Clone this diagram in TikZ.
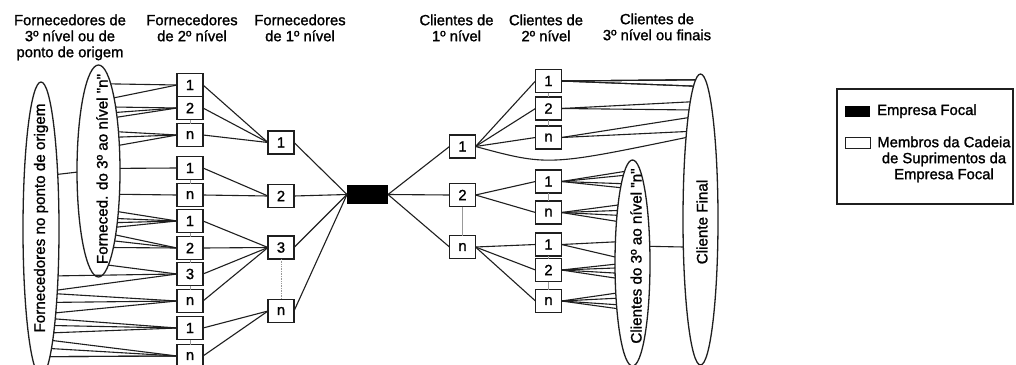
\documentclass[tikz,border=0pt]{standalone}
\usepackage{fontspec}
\setmainfont{Liberation Sans}
\newfontfamily\labelface[FakeBold=1.3]{Liberation Sans}
\usetikzlibrary{shapes.geometric}

\definecolor{ink}{gray}{0.12}
\definecolor{faint}{gray}{0.6}

\newcommand\hfont{\labelface\fontsize{14.8}{16}\selectfont}
\newcommand\efont{\labelface\fontsize{15.2}{17}\selectfont}

% #1: macro receiving the border angle of an ellipse node,
% #2: centre y, #3: half width, #4: half height, #5: y of the point
% (y grows downwards), #6: +1 for the right rim, -1 for the left rim
\newcommand\rimangle[6]{%
  \pgfmathsetmacro#1{atan2((#2)-(#5),(#6)*(#3)*sqrt(1-(((#5)-(#2))/(#4))^2))}}

\begin{document}
\begin{tikzpicture}[x=1pt,y=-1pt,
  member/.style={draw=ink,line width=1.4pt,fill=white,minimum width=26pt,
    minimum height=23pt,inner sep=0pt,outer sep=0pt,font=\hfont},
  focal/.style={fill=black,minimum width=41pt,minimum height=19pt,
    inner sep=0pt,outer sep=0pt},
  conn/.style={draw=ink,line width=1.1pt},
  tie/.style={draw=faint,line width=0.7pt},
  cloud/.style={ellipse,draw=ink,line width=1.3pt,inner sep=0pt,outer sep=0pt},
  cloudtext/.style={rotate=90,font=\efont,inner sep=0pt},
  head/.style={align=center,font=\hfont,inner sep=0pt,anchor=north}]

\useasboundingbox (0,0) rectangle (1016,364);
\fill[white] (0,0) rectangle (1016,364);

% column headings
\node[head] (h1) at (70,13.8)   {\strut Fornecedores de\\3º nível ou de\\ponto de origem};
\node[head] (h2) at (192,13.8)  {\strut Fornecedores\\de 2º nível};
\node[head] (h3) at (300,13.8)  {\strut Fornecedores\\de 1º nível};
\node[head] (h4) at (456.5,13.8){\strut Clientes de\\1º nível};
\node[head] (h5) at (546,13.8)  {\strut Clientes de\\2º nível};
\node[head] (h6) at (657,12.8)  {\strut Clientes de\\3º nível ou finais};

% grouped members at the far ends
\node[cloud,minimum width=36pt,minimum height=294pt] (eo) at (41,229) {};
\node[cloud,minimum width=43pt,minimum height=212pt] (ei) at (98.5,171) {};
\node[cloud,minimum width=35pt,minimum height=206pt] (ci) at (632.5,263) {};
\node[cloud,minimum width=35pt,minimum height=291pt] (co) at (700.5,219.5) {};
\node[cloudtext] (eot) at (41,218)  {Fornecedores no ponto de origem};
\node[cloudtext] (eit) at (102,169) {Forneced. do 3º ao nível "n"};
\node[cloudtext] (cit) at (636,256) {Clientes do 3º ao nível "n"};
\node[cloudtext] (cot) at (702,222) {Cliente Final};

% second-tier suppliers
\foreach \nm/\yy/\lb in {sA1/85/1,sA2/108/2,sAn/135/n,sB1/168/1,sBn/195/n,
    sC1/221/1,sC2/248/2,sC3/274/3,sCn/301/n,sD1/328/1,sDn/356/n}
  \node[member] (\nm) at (190,\yy) {\lb};
% first-tier suppliers
\foreach \nm/\yy/\lb in {t1/142.5/1,t2/196/2,t3/247.5/3,tn/311/n}
  \node[member] (\nm) at (281,\yy) {\lb};
% focal company
\node[focal] (fc) at (367.5,194.5) {};
% first-tier customers
\foreach \nm/\yy/\lb in {c1/146.5/1,c2/195/2,cn/247/n}
  \node[member] (\nm) at (462.5,\yy) {\lb};
% second-tier customers
\foreach \nm/\yy/\lb in {d1/81/1,d2/108.5/2,dn/137.5/n,e1/181.5/1,en/212.5/n,
    f1/244.5/1,f2/270/2,fn/301/n}
  \node[member] (\nm) at (548.5,\yy) {\lb};

% thin ties inside each column
\foreach \a/\b in {sA1/sA2,sA2/sAn,sB1/sBn,sC1/sC2,sC2/sC3,sC3/sCn,sD1/sDn,
    c2/cn,d1/d2,d2/dn,e1/en,f1/f2,f2/fn}
  \draw[tie] (\a.south) -- (\b.north);
\draw[tie,densely dotted] (t3.south) -- (tn.north);

% links from the inner supplier group
\foreach \yy/\tg in {82/sA1,95/sA1,106/sA2,111/sA2,117/sA2,131/sAn,137/sAn,
    145/sAn,168/sB1,195/sBn,213/sC1,219/sC1,224/sC1,229/sC1,236/sC2,243/sC2,
    250/sC2,267/sC3}
  {\rimangle\rimA{171}{21.5}{106}{\yy}{1}\draw[conn] (ei.\rimA) -- (\tg.west);}
% links from the origin suppliers
\foreach \yy/\tg in {278/sC3,291/sC3,297/sCn,305/sCn,313/sCn,321/sD1,329/sD1,
    337/sD1,345/sDn,351/sDn,358/sDn,364/sDn}
  {\rimangle\rimA{229}{18}{147}{\yy}{1}\draw[conn] (eo.\rimA) -- (\tg.west);}
\rimangle\rimA{229}{18}{147}{172}{1}
\rimangle\rimB{171}{21.5}{106}{172}{-1}
\draw[conn] (eo.\rimA) -- (ei.\rimB);

% second tier to first tier, first tier to focal company
\foreach \a/\b in {sA1/t1,sA2/t1,sAn/t1,sB1/t2,sBn/t2,sC1/t3,sC2/t3,sC3/t3,
    sCn/t3,sD1/tn,sDn/tn}
  \draw[conn] (\a.east) -- (\b.west);
\foreach \a in {t1,t2,t3,tn}
  \draw[conn] (\a.east) -- (fc.west);

% focal company to customers
\foreach \b in {c1,c2,cn}
  \draw[conn] (fc.east) -- (\b.west);
\foreach \a/\b in {c1/d1,c1/d2,c1/dn,c2/e1,c2/en,cn/f1,cn/f2,cn/fn}
  \draw[conn] (\a.east) -- (\b.west);

% links to the final customer
\foreach \yy/\tg in {80/d1,83/d1,86/d1,89/d1,92/d1,103/d2,113/d2,124/dn,132/dn}
  {\rimangle\rimA{219.5}{17.5}{145.5}{\yy}{-1}\draw[conn] (\tg.east) -- (co.\rimA);}
\rimangle\rimA{219.5}{17.5}{145.5}{140}{-1}
\draw[conn] (c1.east) .. controls (548,166) .. (co.\rimA);
% links to the third-to-n tier customers
\foreach \yy/\tg in {173/e1,178/e1,184/e1,189/e1,207/en,212/en,217/en,222/en,
    242/f1,257/f1,264/f2,268/f2,273/f2,278/f2,293/fn,298/fn,303/fn,307/fn}
  {\rimangle\rimA{263}{17.5}{103}{\yy}{-1}\draw[conn] (\tg.east) -- (ci.\rimA);}
\rimangle\rimA{263}{17.5}{103}{246}{1}
\rimangle\rimB{219.5}{17.5}{145.5}{246}{-1}
\draw[conn] (ci.\rimA) -- (co.\rimB);

% legend
\node[draw=ink,line width=1.3pt,minimum width=176pt,minimum height=115pt,
  inner sep=0pt] (lg) at (925,146.5) {};
\node[fill=black,minimum width=25pt,minimum height=11pt,inner sep=0pt]
  (lgk) at (857.5,111.5) {};
\node[anchor=base west,font=\hfont,inner sep=0pt] (lgkt) at (877,115) {Empresa Focal};
\node[draw=ink,line width=1pt,fill=white,minimum width=25pt,minimum height=11pt,
  inner sep=0pt] (lgw) at (857.5,142.5) {};
\node[head] (lgwt) at (944,135.8) {\strut Membros da Cadeia\\de Suprimentos da\\Empresa Focal};
\end{tikzpicture}
\end{document}
